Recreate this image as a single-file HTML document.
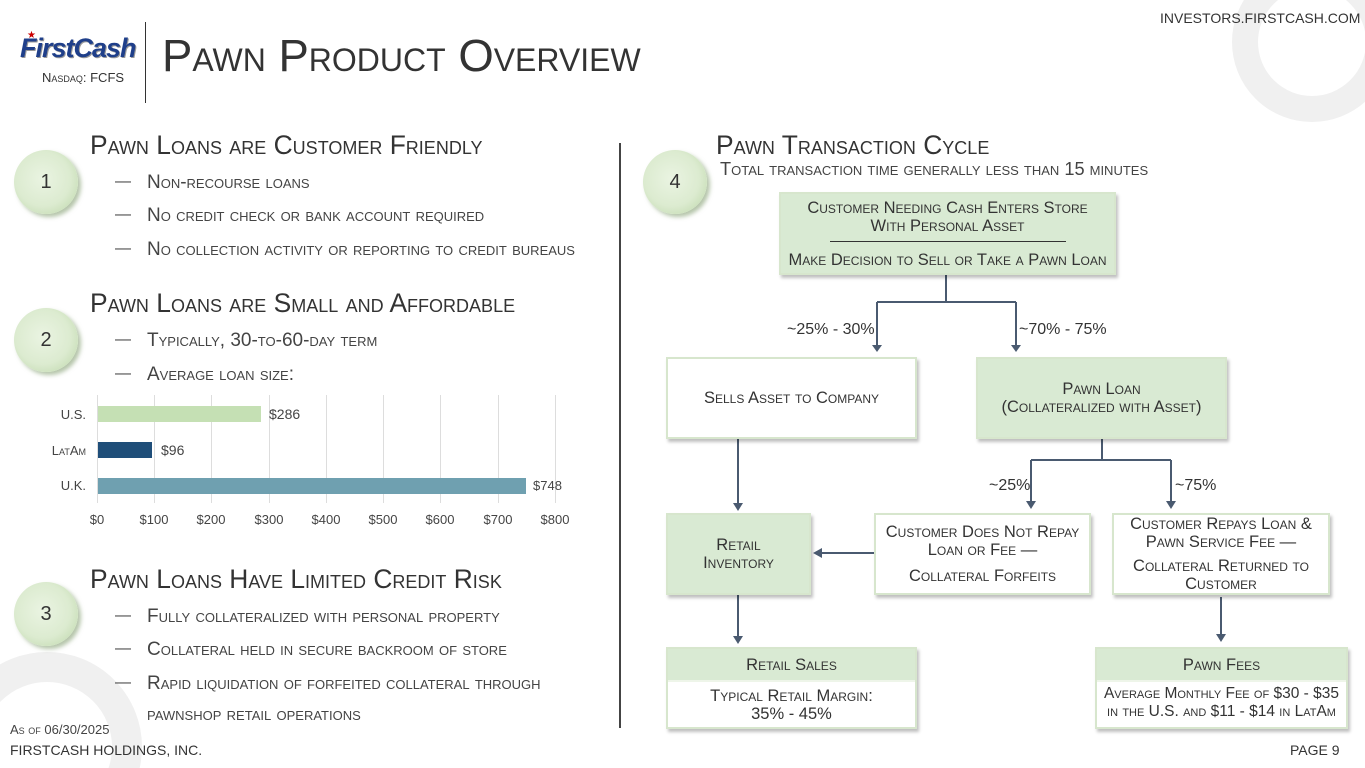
<!DOCTYPE html>
<html style="width:1365px;height:768px;overflow:hidden"><head><meta charset="utf-8"><style>
*{margin:0;padding:0;box-sizing:border-box}
body{width:1365px;height:768px;position:relative;overflow:hidden;background:#fff;font-family:"Liberation Sans",sans-serif;color:#333}
.a{position:absolute;white-space:nowrap}
.sc{font-variant:small-caps}
.h{font-size:26.4px;color:#333;font-variant:small-caps}
.b{font-size:19px;color:#444;font-variant:small-caps}
.d{position:absolute;font-size:16px;color:#444}
.circ{position:absolute;width:64px;height:64px;border-radius:50%;background:radial-gradient(circle at 45% 45%,#eaf4e2 0%,#dcebd0 55%,#b8d4a4 100%);box-shadow:3px 3px 4px rgba(120,150,100,.55);font-size:20px;color:#333;text-align:center;line-height:64px}
.box{position:absolute;border:2px solid #d7e6cd;box-shadow:2px 3px 3px rgba(0,0,0,.25);display:flex;flex-direction:column;align-items:center;justify-content:center;text-align:center;font-variant:small-caps;font-size:16.5px;color:#333;line-height:18px}
.g{background:#d9ead3}
.w{background:#fff}
.lbl{position:absolute;font-size:16px;color:#333}
</style></head><body>
<div class="a" style="left:0;top:0;width:1365px;height:768px;overflow:hidden">
<div class="a" style="left:1232px;top:-38px;width:160px;height:160px;border-radius:50%;border:26px solid #f0f0f0"></div>
<div class="a" style="left:-48px;top:652px;width:190px;height:190px;border-radius:50%;border:30px solid #f0f0f0"></div>
</div>

<div class="a" style="left:1160px;top:10px;font-size:14px;color:#333">INVESTORS.FIRSTCASH.COM</div>
<div class="a" style="left:20px;top:33px;font-size:27px;font-weight:bold;font-style:italic;color:#1f3f8a;letter-spacing:-1px;text-shadow:1px 1px 0 #999">FirstCash</div>
<div class="a" style="left:27px;top:30px;color:#c00;font-size:10px">★</div>
<div class="a sc" style="left:42px;top:70px;font-size:13px;color:#333">Nasdaq: FCFS</div>
<div class="a" style="left:145px;top:22px;width:1px;height:81px;background:#333"></div>
<div class="a sc" style="left:162px;top:30px;font-size:45.5px;color:#333">Pawn Product Overview</div>

<div class="circ" style="left:14px;top:150px">1</div>
<div class="a h" style="left:90px;top:130px">Pawn Loans are Customer Friendly</div>
<div class="d" style="left:115px;top:173px">—</div><div class="a b" style="left:147px;top:172px">Non-recourse loans</div>
<div class="d" style="left:115px;top:206px">—</div><div class="a b" style="left:147px;top:205px">No credit check or bank account required</div>
<div class="d" style="left:115px;top:240px">—</div><div class="a b" style="left:147px;top:239px">No collection activity or reporting to credit bureaus</div>

<div class="circ" style="left:14px;top:308px">2</div>
<div class="a h" style="left:90px;top:288px">Pawn Loans are Small and Affordable</div>
<div class="d" style="left:115px;top:331px">—</div><div class="a b" style="left:147px;top:330px">Typically, 30-to-60-day term</div>
<div class="d" style="left:115px;top:365px">—</div><div class="a b" style="left:147px;top:364px">Average loan size:</div>

<svg class="a" style="left:0;top:390px" width="600" height="145">
<g stroke="#ddd" stroke-width="1">
<line x1="97.5" y1="5" x2="97.5" y2="113"/><line x1="154.5" y1="5" x2="154.5" y2="113"/><line x1="211.5" y1="5" x2="211.5" y2="113"/><line x1="269.5" y1="5" x2="269.5" y2="113"/><line x1="326.5" y1="5" x2="326.5" y2="113"/><line x1="383.5" y1="5" x2="383.5" y2="113"/><line x1="440.5" y1="5" x2="440.5" y2="113"/><line x1="498.5" y1="5" x2="498.5" y2="113"/><line x1="555.5" y1="5" x2="555.5" y2="113"/>
</g>
<rect x="98" y="16" width="163" height="16" fill="#c5e0b4"/>
<rect x="98" y="52" width="54" height="16" fill="#1f4e79"/>
<rect x="98" y="88" width="428" height="16" fill="#6fa0b0"/>
<g font-family="Liberation Sans" font-size="13" fill="#444">
<text x="86" y="29" text-anchor="end">U.S.</text>
<text x="86" y="65" text-anchor="end" style="font-variant:small-caps">LatAm</text>
<text x="86" y="100" text-anchor="end">U.K.</text>
<text x="269" y="29" font-size="14">$286</text>
<text x="161" y="65" font-size="14">$96</text>
<text x="533" y="100">$748</text>
<text x="97" y="134" text-anchor="middle">$0</text><text x="154" y="134" text-anchor="middle">$100</text><text x="211" y="134" text-anchor="middle">$200</text><text x="269" y="134" text-anchor="middle">$300</text><text x="326" y="134" text-anchor="middle">$400</text><text x="383" y="134" text-anchor="middle">$500</text><text x="440" y="134" text-anchor="middle">$600</text><text x="498" y="134" text-anchor="middle">$700</text><text x="555" y="134" text-anchor="middle">$800</text>
</g></svg>

<div class="circ" style="left:14px;top:582px">3</div>
<div class="a h" style="left:90px;top:564px">Pawn Loans Have Limited Credit Risk</div>
<div class="d" style="left:115px;top:607px">—</div><div class="a b" style="left:147px;top:606px">Fully collateralized with personal property</div>
<div class="d" style="left:115px;top:640px">—</div><div class="a b" style="left:147px;top:639px">Collateral held in secure backroom of store</div>
<div class="d" style="left:115px;top:674px">—</div><div class="a b" style="left:147px;top:673px">Rapid liquidation of forfeited collateral through</div>
<div class="a b" style="left:147px;top:704px">pawnshop retail operations</div>

<div class="a sc" style="left:10px;top:722px;font-size:13px;color:#444">As of 06/30/2025</div>
<div class="a" style="left:10px;top:742px;font-size:14px;color:#333">FIRSTCASH HOLDINGS, INC.</div>
<div class="a" style="left:1290px;top:742px;font-size:14px;color:#333">PAGE 9</div>

<div class="a" style="left:619px;top:143px;width:2px;height:585px;background:#444"></div>

<div class="circ" style="left:643px;top:150px">4</div>
<div class="a h" style="left:716px;top:130px">Pawn Transaction Cycle</div>
<div class="a b" style="left:720px;top:159px;font-size:18.2px">Total transaction time generally less than 15 minutes</div>

<svg class="a" style="left:0;top:0" width="1365" height="768">
<g stroke="#4a5a70" stroke-width="2" fill="none">
<path d="M946 275V302M877 302H1016M877 302V346M1016 302V346"/>
<path d="M1102 438V460M1031 460H1171M1031 460V501M1171 460V501"/>
<path d="M738 438V503M738 595V636M1221 597V634M874 553H822"/>
</g>
<g fill="#4a5a70">
<path d="M872 345H882L877 352Z"/><path d="M1011 345H1021L1016 352Z"/>
<path d="M1026 501H1036L1031 509Z"/><path d="M1166 501H1176L1171 509Z"/>
<path d="M733 503H743L738 511Z"/><path d="M733 636H743L738 644Z"/><path d="M1216 634H1226L1221 642Z"/>
<path d="M822 548V558L813 553Z"/>
</g></svg>

<div class="lbl" style="left:787px;top:321px">~25% - 30%</div>
<div class="lbl" style="left:1019px;top:321px">~70% - 75%</div>
<div class="lbl" style="left:989px;top:477px">~25%</div>
<div class="lbl" style="left:1175px;top:477px">~75%</div>

<div class="box g" style="left:779px;top:192px;width:337px;height:83px">
<div>Customer Needing Cash Enters Store<br>With Personal Asset</div>
<div style="width:236px;height:1px;background:#333;margin:6px 0 9px"></div>
<div>Make Decision to Sell or Take a Pawn Loan</div></div>
<div class="box w" style="left:666px;top:357px;width:251px;height:82px">Sells Asset to Company</div>
<div class="box g" style="left:976px;top:357px;width:251px;height:82px">Pawn Loan<br>(Collateralized with Asset)</div>
<div class="box g" style="left:666px;top:513px;width:145px;height:82px">Retail<br>Inventory</div>
<div class="box w" style="left:874px;top:513px;width:217px;height:82px"><div>Customer Does Not Repay<br>Loan or Fee —</div><div style="margin-top:8px">Collateral Forfeits</div></div>
<div class="box w" style="left:1112px;top:513px;width:218px;height:82px"><div>Customer Repays Loan &amp;<br>Pawn Service Fee —</div><div style="margin-top:6px">Collateral Returned to<br>Customer</div></div>
<div class="box w" style="left:666px;top:647px;width:251px;height:82px;justify-content:flex-start">
<div class="g" style="width:100%;height:33px;line-height:33px;border-bottom:2px solid #eef5e9">Retail Sales</div>
<div style="margin-top:5px">Typical Retail Margin:<br>35% - 45%</div></div>
<div class="box w" style="left:1095px;top:647px;width:253px;height:82px;justify-content:flex-start">
<div class="g" style="width:100%;height:33px;line-height:33px;border-bottom:2px solid #eef5e9">Pawn Fees</div>
<div style="margin-top:3px;font-size:15.5px">Average Monthly Fee of $30 - $35<br>in the U.S. and $11 - $14 in LatAm</div></div>
</body></html>
